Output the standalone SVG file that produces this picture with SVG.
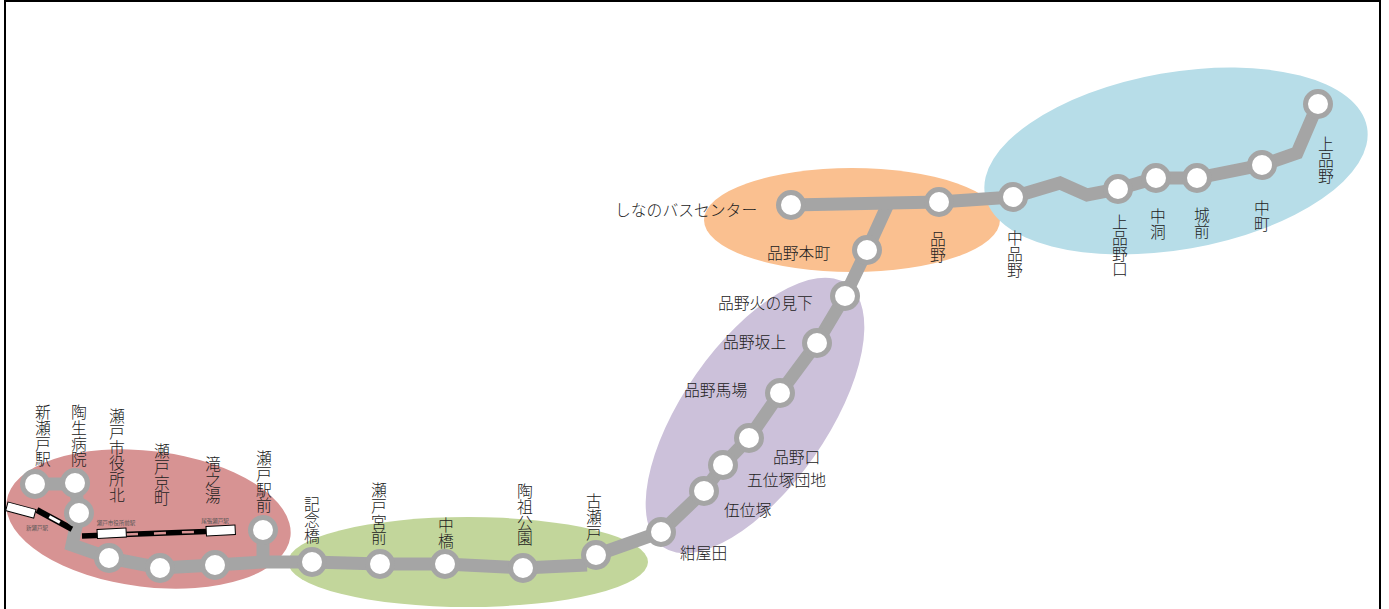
<svg xmlns="http://www.w3.org/2000/svg" width="1389" height="609" viewBox="0 0 1389 609">
<style>
.st circle{fill:#fff;stroke:#a5a5a5;stroke-width:5}
.l{font-family:"Noto Sans CJK JP","Liberation Serif",sans-serif;font-size:15.800px;font-weight:300;fill:#222}
.v{writing-mode:vertical-rl;text-anchor:start}
.s{font-family:"Noto Sans CJK JP","Liberation Sans",sans-serif;font-size:5.500px;fill:#555;text-anchor:middle}
.line{fill:none;stroke:#a5a5a5;stroke-width:13;stroke-linejoin:miter}
</style>
<rect x="5" y="1" width="1375" height="620" fill="#fff" stroke="#000" stroke-width="2"/>
<g id="areas">
<ellipse cx="148.500" cy="519" rx="143" ry="68" transform="rotate(7 148.500 519)" fill="#d79393"/>
<ellipse cx="468" cy="562" rx="180" ry="45" fill="#c2d69b"/>
<ellipse cx="755" cy="415.500" rx="160.500" ry="72" transform="rotate(-55 755 415.500)" fill="#ccc1da"/>
<ellipse cx="852" cy="220" rx="148" ry="52" fill="#fac090"/>
<ellipse cx="1176" cy="161" rx="194" ry="88.500" transform="rotate(-10 1176 161)" fill="#b7dde8"/>
</g>
<g id="connectors">
<path class="line" d="M35 484H75"/>
<path class="line" d="M75 484L79 513L72 545L109 558L160 568L215 565L263 562H312L380 564H445L523 568L587 565"/>
<path class="line" d="M596 555L661 532L704 491L723 465L749 438L780 393L817 343L845 296L867 250L888 204"/>
<path class="line" d="M263 530V562"/>
<path class="line" d="M791 205L939 202L1013 197L1060 183L1087 195L1118 189L1156 178H1197L1262 165L1297 153L1318 104"/>
<path fill="none" stroke="#000" stroke-width="6" d="M37 510L72 529"/>
<path fill="none" stroke="#fff" stroke-width="3" stroke-dasharray="12 30" stroke-dashoffset="-14" d="M37 510L72 529"/>
<path fill="none" stroke="#000" stroke-width="5.500" d="M82 536L206 531.500"/>
<path fill="none" stroke="#d79393" stroke-width="2.500" stroke-dasharray="12 16" stroke-dashoffset="-44" d="M82 536L206 531.500"/>
</g>
<g id="rails" fill="#fff" stroke="#000" stroke-width="1">
<rect x="8" y="502" width="29" height="9" transform="rotate(15 8 502)"/>
<rect x="97" y="529.500" width="29" height="9" transform="rotate(-3 97 529.500)"/>
<rect x="206" y="526.500" width="29" height="9.500" transform="rotate(-3 206 526.500)"/>
</g>
<g class="st">
<g id="s1"><circle cx="35" cy="484" r="12.500"/></g>
<g id="s2"><circle cx="75" cy="483" r="12.500"/></g>
<g id="s3"><circle cx="79" cy="513" r="12.500"/></g>
<g id="s4"><circle cx="109" cy="558" r="12.500"/></g>
<g id="s5"><circle cx="160" cy="568" r="12.500"/></g>
<g id="s6"><circle cx="215" cy="565" r="12.500"/></g>
<g id="s7"><circle cx="263" cy="530" r="12.500"/></g>
<g id="s8"><circle cx="312" cy="562" r="12.500"/></g>
<g id="s9"><circle cx="380" cy="564" r="12.500"/></g>
<g id="s10"><circle cx="445" cy="564" r="12.500"/></g>
<g id="s11"><circle cx="523" cy="568" r="12.500"/></g>
<g id="s12"><circle cx="596" cy="555" r="12.500"/></g>
<g id="s13"><circle cx="661" cy="532" r="12.500"/></g>
<g id="s14"><circle cx="704" cy="491" r="12.500"/></g>
<g id="s15"><circle cx="723" cy="465" r="12.500"/></g>
<g id="s16"><circle cx="749" cy="438" r="12.500"/></g>
<g id="s17"><circle cx="780" cy="393" r="12.500"/></g>
<g id="s18"><circle cx="817" cy="343" r="12.500"/></g>
<g id="s19"><circle cx="845" cy="296" r="12.500"/></g>
<g id="s20"><circle cx="867" cy="250" r="12.500"/></g>
<g id="s21"><circle cx="791" cy="205" r="12.500"/></g>
<g id="s22"><circle cx="939" cy="202" r="12.500"/></g>
<g id="s23"><circle cx="1013" cy="197" r="12.500"/></g>
<g id="s24"><circle cx="1118" cy="189" r="12.500"/></g>
<g id="s25"><circle cx="1156" cy="178" r="12.500"/></g>
<g id="s26"><circle cx="1197" cy="178" r="12.500"/></g>
<g id="s27"><circle cx="1262" cy="165" r="12.500"/></g>
<g id="s28"><circle cx="1318" cy="104" r="12.500"/></g>
</g>
<g id="labels">
<text class="l v" x="43" y="404">新瀬戸駅</text>
<text class="l v" x="79" y="404">陶生病院</text>
<text class="l v" x="117" y="408">瀬戸市役所北</text>
<text class="l v" x="162" y="443">瀬戸京町</text>
<text class="l v" x="213" y="456">滝之湯</text>
<text class="l v" x="264" y="450">瀬戸駅前</text>
<text class="l v" x="312" y="496">記念橋</text>
<text class="l v" x="379" y="482">瀬戸宮前</text>
<text class="l v" x="446" y="517">中橋</text>
<text class="l v" x="525" y="483">陶祖公園</text>
<text class="l v" x="594" y="493">古瀬戸</text>
<text class="l" x="680" y="559">紺屋田</text>
<text class="l" x="724" y="516">伍位塚</text>
<text class="l" x="747" y="486">五位塚団地</text>
<text class="l" x="773" y="463">品野口</text>
<text class="l" x="684" y="396">品野馬場</text>
<text class="l" x="723" y="348">品野坂上</text>
<text class="l" x="718" y="309">品野火の見下</text>
<text class="l" x="767" y="259">品野本町</text>
<text class="l" x="615" y="216">しなのバスセンター</text>
<text class="l v" x="938" y="231">品野</text>
<text class="l v" x="1015" y="230">中品野</text>
<text class="l v" x="1120" y="214">上品野口</text>
<text class="l v" x="1158" y="208">中洞</text>
<text class="l v" x="1202" y="207">城前</text>
<text class="l v" x="1262" y="200">中町</text>
<text class="l v" x="1326" y="136">上品野</text>
<text class="s" x="37" y="530">新瀬戸駅</text>
<text class="s" x="116" y="525">瀬戸市役所前駅</text>
<text class="s" x="215" y="523">尾張瀬戸駅</text>
</g>
</svg>
